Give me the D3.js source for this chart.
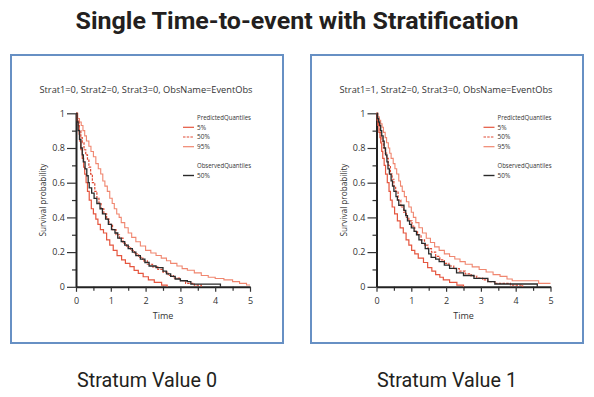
<!DOCTYPE html>
<html><head><meta charset="utf-8">
<script src="https://cdn.jsdelivr.net/npm/d3@7"></script>
<style>
html,body{margin:0;padding:0;background:#fff;}
svg{display:block;}
</style></head>
<body>
<svg id="c" width="594" height="397"></svg>
<script>
// ---- data ----
const mainTitle = "Single Time-to-event with Stratification";
const panelTitles = ["Strat1=0, Strat2=0, Strat3=0, ObsName=EventObs", "Strat1=1, Strat2=0, Strat3=0, ObsName=EventObs"];
const stratumLabels = ["Stratum Value 0", "Stratum Value 1"];
const xTicks = [0, 1, 2, 3, 4, 5];
const yTicks = [0, 0.2, 0.4, 0.6, 0.8, 1];
const xLabel = "Time";
const yLabel = "Survival probability";
const legendPredTitle = "PredictedQuantiles";
const legendObsTitle = "ObservedQuantiles";
const predNames = ["5%", "50%", "95%"];
const obsNames = ["50%"];

// stratum 0 : [time, survival]
const s0_p05 = [[0,1],[0.03,0.96],[0.06,0.93],[0.09,0.88],[0.11,0.84],[0.14,0.79],[0.18,0.74],[0.22,0.69],[0.25,0.65],[0.29,0.60],[0.33,0.55],[0.38,0.50],[0.44,0.45],[0.50,0.42],[0.57,0.39],[0.63,0.36],[0.70,0.33],[0.79,0.31],[0.88,0.27],[0.97,0.24],[1.07,0.21],[1.18,0.18],[1.31,0.155],[1.42,0.135],[1.55,0.116],[1.67,0.095],[1.79,0.077],[1.93,0.058],[2.08,0.04],[2.25,0.025],[2.46,0.01],[2.62,0]];
const s0_p50 = [[0,1],[0.04,0.95],[0.09,0.9],[0.14,0.86],[0.18,0.83],[0.23,0.79],[0.28,0.76],[0.33,0.73],[0.37,0.69],[0.42,0.65],[0.47,0.6],[0.54,0.55],[0.6,0.51],[0.66,0.48],[0.72,0.45],[0.8,0.42],[0.88,0.39],[0.95,0.36],[1.05,0.33],[1.15,0.3],[1.25,0.28],[1.35,0.25],[1.45,0.23],[1.57,0.21],[1.68,0.19],[1.8,0.17],[1.92,0.15],[2.05,0.13],[2.2,0.115],[2.35,0.1],[2.5,0.085],[2.65,0.065],[2.8,0.05],[3.0,0.035],[3.15,0.02],[3.4,0.01],[3.6,0]];
const s0_p95 = [[0,1],[0.05,0.97],[0.1,0.95],[0.15,0.93],[0.2,0.9],[0.25,0.87],[0.3,0.84],[0.37,0.81],[0.43,0.78],[0.5,0.75],[0.57,0.71],[0.64,0.68],[0.71,0.65],[0.77,0.61],[0.83,0.58],[0.9,0.55],[0.97,0.51],[1.04,0.48],[1.1,0.45],[1.17,0.42],[1.24,0.4],[1.3,0.37],[1.4,0.34],[1.5,0.31],[1.6,0.285],[1.72,0.26],[1.85,0.235],[2.0,0.21],[2.15,0.195],[2.3,0.18],[2.45,0.165],[2.6,0.15],[2.72,0.135],[2.9,0.12],[3.05,0.105],[3.2,0.095],[3.4,0.08],[3.6,0.065],[3.8,0.055],[4.0,0.048],[4.25,0.04],[4.5,0.03],[4.7,0.02],[4.9,0.01],[5,0.01]];
const s0_obs = [[0,1],[0.03,0.95],[0.06,0.9],[0.1,0.85],[0.14,0.8],[0.18,0.76],[0.21,0.72],[0.26,0.68],[0.31,0.64],[0.35,0.6],[0.38,0.57],[0.45,0.54],[0.52,0.51],[0.6,0.48],[0.69,0.45],[0.76,0.42],[0.85,0.39],[0.93,0.36],[1.02,0.33],[1.12,0.31],[1.2,0.28],[1.3,0.26],[1.4,0.24],[1.5,0.22],[1.62,0.2],[1.72,0.18],[1.85,0.16],[1.98,0.14],[2.1,0.12],[2.3,0.11],[2.5,0.09],[2.6,0.075],[2.72,0.06],[2.85,0.045],[3.0,0.035],[3.2,0.03],[3.3,0.015],[4.15,0]];

// stratum 1
const s1_p05 = [[0,1],[0.02,0.96],[0.04,0.93],[0.07,0.89],[0.1,0.86],[0.12,0.83],[0.15,0.78],[0.18,0.74],[0.22,0.7],[0.26,0.65],[0.31,0.6],[0.36,0.55],[0.4,0.5],[0.45,0.46],[0.52,0.42],[0.6,0.38],[0.68,0.34],[0.77,0.31],[0.85,0.27],[0.93,0.24],[1.01,0.21],[1.1,0.19],[1.2,0.165],[1.35,0.14],[1.47,0.11],[1.59,0.09],[1.7,0.07],[1.82,0.055],[1.92,0.04],[2.1,0.025],[2.31,0.01],[2.5,0]];
const s1_p50 = [[0,1],[0.03,0.97],[0.06,0.93],[0.1,0.89],[0.13,0.86],[0.16,0.84],[0.2,0.8],[0.25,0.77],[0.29,0.74],[0.34,0.7],[0.4,0.65],[0.45,0.62],[0.5,0.58],[0.55,0.55],[0.62,0.5],[0.7,0.46],[0.78,0.43],[0.86,0.4],[0.93,0.38],[1.02,0.35],[1.1,0.32],[1.18,0.3],[1.28,0.27],[1.38,0.24],[1.48,0.22],[1.58,0.2],[1.7,0.175],[1.82,0.155],[1.95,0.135],[2.08,0.12],[2.22,0.105],[2.38,0.09],[2.55,0.075],[2.72,0.062],[2.88,0.05],[3.05,0.04],[3.2,0.03],[3.4,0.02],[3.85,0.01],[4.2,0]];
const s1_p95 = [[0,1],[0.04,0.98],[0.08,0.96],[0.12,0.94],[0.16,0.92],[0.2,0.89],[0.25,0.86],[0.29,0.83],[0.34,0.8],[0.38,0.77],[0.42,0.74],[0.48,0.71],[0.53,0.68],[0.58,0.65],[0.64,0.61],[0.69,0.58],[0.74,0.55],[0.8,0.52],[0.86,0.49],[0.93,0.46],[1.0,0.43],[1.06,0.4],[1.13,0.37],[1.22,0.34],[1.32,0.31],[1.43,0.28],[1.55,0.255],[1.67,0.23],[1.8,0.21],[1.95,0.19],[2.1,0.175],[2.25,0.16],[2.4,0.145],[2.55,0.13],[2.75,0.115],[2.95,0.1],[3.15,0.085],[3.35,0.07],[3.55,0.06],[3.75,0.045],[3.9,0.035],[4.66,0.02],[5,0.02]];
const s1_obs = [[0,1],[0.03,0.97],[0.06,0.95],[0.09,0.93],[0.12,0.9],[0.15,0.87],[0.19,0.84],[0.22,0.8],[0.26,0.76],[0.3,0.72],[0.33,0.68],[0.37,0.65],[0.42,0.61],[0.46,0.58],[0.5,0.55],[0.56,0.52],[0.6,0.5],[0.64,0.47],[0.79,0.44],[0.84,0.41],[0.89,0.38],[0.95,0.36],[1.0,0.34],[1.08,0.32],[1.15,0.3],[1.22,0.27],[1.3,0.25],[1.4,0.22],[1.5,0.19],[1.57,0.17],[1.7,0.16],[1.8,0.145],[1.95,0.125],[2.1,0.106],[2.3,0.08],[2.5,0.065],[2.8,0.048],[3.2,0.03],[3.4,0.016],[4.62,0]];

const strata = [
  {pred: [s0_p05, s0_p50, s0_p95], obs: [s0_obs]},
  {pred: [s1_p05, s1_p50, s1_p95], obs: [s1_obs]}
];

// ---- styles ----
const predStyles = [
  {color: "#e5563f", dash: null, width: 1.2},
  {color: "#e04a34", dash: "2.5,1.2", width: 1.2},
  {color: "#f0866f", dash: null, width: 1.1}
];
const obsStyles = [{color: "#2a2a2a", dash: null, width: 1.3}];
const panelFont = "'Open Sans', 'DejaVu Sans', sans-serif";
const headFont = "'Roboto', 'Liberation Sans', sans-serif";

const svg = d3.select("#c");
svg.append("rect").attr("width", 594).attr("height", 397).attr("fill", "#fff");

svg.append("text").text(mainTitle)
  .attr("x", 297).attr("y", 29).attr("text-anchor", "middle")
  .attr("font-family", headFont).attr("font-weight", 700).attr("font-size", 24)
  .attr("fill", "#231f20")
  .attr("textLength", 443).attr("lengthAdjust", "spacingAndGlyphs");

const panels = [
  {box: [11, 55, 283, 343], axX: 76},
  {box: [311, 55, 583, 343], axX: 376.5}
];

panels.forEach((p, i) => {
  const [bx0, by0, bx1, by1] = p.box;
  const cx = (bx0 + bx1) / 2;
  const g = svg.append("g");
  g.append("rect").attr("x", bx0).attr("y", by0).attr("width", bx1 - bx0).attr("height", by1 - by0)
    .attr("fill", "#fff").attr("stroke", "#6790c4").attr("stroke-width", 2);

  g.append("text").text(panelTitles[i]).attr("x", cx - 1).attr("y", 93)
    .attr("text-anchor", "middle").attr("font-family", panelFont).attr("font-size", 9.5)
    .attr("fill", "#333").attr("textLength", 213).attr("lengthAdjust", "spacingAndGlyphs");

  const x = d3.scaleLinear().domain([0, 5]).range([p.axX, p.axX + 174]);
  const y = d3.scaleLinear().domain([0, 1]).range([286.8, 113.3]);

  // minor ticks
  const yMinor = d3.range(1, 10, 2).map(v => v / 10);
  const xMinor = d3.range(1, 10, 2).map(v => v / 2);
  g.append("g").attr("transform", `translate(${p.axX},0)`)
    .call(d3.axisLeft(y).tickValues(yMinor).tickSize(4).tickFormat(""))
    .call(a => a.select(".domain").remove())
    .selectAll("line").attr("stroke", "#333").attr("stroke-width", 1.2);
  g.append("g").attr("transform", `translate(0,286.8)`)
    .call(d3.axisBottom(x).tickValues(xMinor).tickSize(4).tickFormat(""))
    .call(a => a.select(".domain").remove())
    .selectAll("line").attr("stroke", "#333").attr("stroke-width", 1.2);

  // major axes
  const ya = g.append("g").attr("transform", `translate(${p.axX},0)`)
    .call(d3.axisLeft(y).tickValues(yTicks).tickSize(9).tickSizeOuter(0).tickPadding(2)
      .tickFormat(d => String(d)));
  const xa = g.append("g").attr("transform", `translate(0,286.8)`)
    .call(d3.axisBottom(x).tickValues(xTicks).tickSize(5).tickSizeOuter(0).tickPadding(6)
      .tickFormat(d3.format("d")));
  [ya, xa].forEach(a => {
    a.select(".domain").attr("stroke", "#222").attr("stroke-width", 2);
    a.selectAll(".tick line").attr("stroke", "#333").attr("stroke-width", 1.2);
    a.selectAll(".tick text").attr("font-family", panelFont).attr("font-size", 9).attr("fill", "#333");
  });

  g.append("text").text(xLabel).attr("x", x(2.5)).attr("y", 319)
    .attr("text-anchor", "middle").attr("font-family", panelFont).attr("font-size", 9).attr("fill", "#333");
  g.append("text").text(yLabel)
    .attr("transform", `translate(${p.axX - 30},${y(0.5)}) rotate(-90)`)
    .attr("text-anchor", "middle").attr("font-family", panelFont).attr("font-size", 9.5).attr("fill", "#333")
    .attr("textLength", 73).attr("lengthAdjust", "spacingAndGlyphs");

  const line = d3.line().x(d => x(d[0])).y(d => y(d[1])).curve(d3.curveStepAfter);
  const st = strata[i];
  [2, 0, 1].forEach(k => {
    g.append("path").datum(st.pred[k]).attr("d", line).attr("fill", "none")
      .attr("stroke", predStyles[k].color).attr("stroke-width", predStyles[k].width)
      .attr("stroke-dasharray", predStyles[k].dash);
  });
  st.obs.forEach((s, k) => {
    g.append("path").datum(s).attr("d", line).attr("fill", "none")
      .attr("stroke", obsStyles[k].color).attr("stroke-width", obsStyles[k].width);
  });

  // legend
  const lx = p.axX + 107;
  const lg = g.append("g").attr("font-family", panelFont).attr("font-size", 6.5).attr("fill", "#333");
  lg.append("text").text(legendPredTitle).attr("x", lx + 14).attr("y", 119.5)
    .attr("textLength", 54).attr("lengthAdjust", "spacingAndGlyphs");
  predNames.forEach((n, k) => {
    const yy = 127.3 + k * 9.7;
    lg.append("line").attr("x1", lx).attr("x2", lx + 11).attr("y1", yy).attr("y2", yy)
      .attr("stroke", predStyles[k].color).attr("stroke-width", 1.2).attr("stroke-dasharray", predStyles[k].dash);
    lg.append("text").text(n).attr("x", lx + 14).attr("y", yy + 2.3);
  });
  lg.append("text").text(legendObsTitle).attr("x", lx + 14).attr("y", 167.8)
    .attr("textLength", 54).attr("lengthAdjust", "spacingAndGlyphs");
  obsNames.forEach((n, k) => {
    const yy = 175.5 + k * 9.7;
    lg.append("line").attr("x1", lx).attr("x2", lx + 11).attr("y1", yy).attr("y2", yy)
      .attr("stroke", obsStyles[k].color).attr("stroke-width", 1.4);
    lg.append("text").text(n).attr("x", lx + 14).attr("y", yy + 2.3);
  });

  svg.append("text").text(stratumLabels[i]).attr("x", cx).attr("y", 387)
    .attr("text-anchor", "middle").attr("font-family", headFont).attr("font-size", 21)
    .attr("fill", "#231f20").attr("textLength", 140).attr("lengthAdjust", "spacingAndGlyphs");
});
</script>
</body></html>
